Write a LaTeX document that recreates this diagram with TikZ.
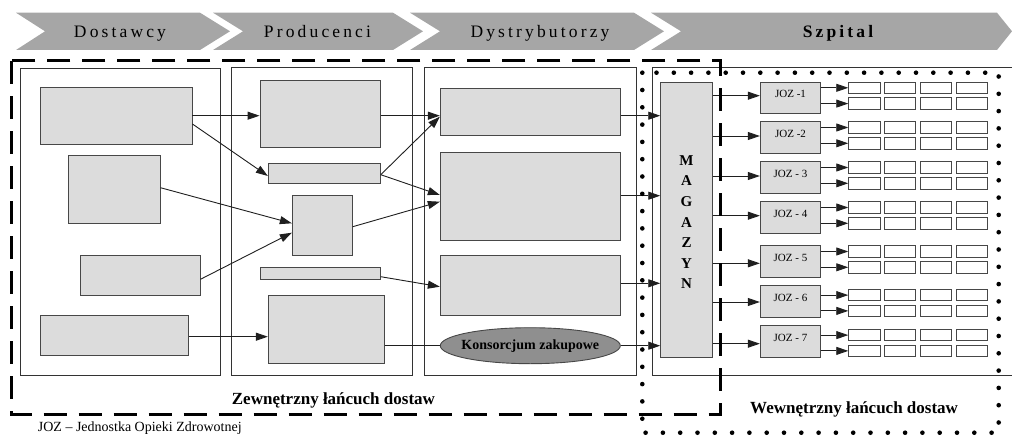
\documentclass[tikz,border=0pt]{standalone}
\usepackage{fontspec}
\setmainfont{Liberation Serif}
\newfontfamily\hdrfont[LetterSpace=18]{Liberation Serif}
\usetikzlibrary{arrows.meta,shapes.geometric,fit}
\definecolor{chevgray}{HTML}{A6A6A6}
\definecolor{boxgray}{HTML}{DCDCDC}
\definecolor{ellgray}{HTML}{8F8F8F}
\begin{document}
\begin{tikzpicture}[x=1pt,y=-1pt,
  box/.style={draw=black!72, fill=boxgray, line width=0.9pt, inner sep=0pt},
  cell/.style={draw=black!72, fill=white, line width=0.9pt, inner sep=0pt},
  col/.style={draw=black!80, line width=0.9pt},
  arr/.style={draw=black!88, line width=0.9pt, -{Triangle[length=12pt,width=8pt]}},
  conn/.style={draw=black!88, line width=0.9pt},
  chev/.style={fill=chevgray},
  hdr/.style={font=\hdrfont\fontsize{17.5}{20}\selectfont, anchor=base, inner sep=0pt},
  dashrect/.style={draw=black, line width=3pt, dash pattern=on 23pt off 12pt},
  dotrect/.style={draw=black, line width=4.6pt, line cap=round, dash pattern=on 0pt off 17.3pt},
  lbl/.style={font=\bfseries\fontsize{17}{20}\selectfont, anchor=base west, inner sep=0pt}
]
\useasboundingbox (0,0) rectangle (1012,436);
% header chevrons
\fill[chev] (16,12.7) -- (200,12.7) -- (230,31.3) -- (200,50) -- (16,50) -- (45,31.3) -- cycle;
\fill[chev] (213,12.7) -- (393,12.7) -- (423,31.3) -- (393,50) -- (213,50) -- (243,31.3) -- cycle;
\fill[chev] (410,12.7) -- (634,12.7) -- (664,31.3) -- (634,50) -- (410,50) -- (440,31.3) -- cycle;
\fill[chev] (651,12.7) -- (997,12.7) -- (1012,31.3) -- (997,50) -- (651,50) -- (681,31.3) -- cycle;
\node[hdr] (h1) at (120,37.3) {Dostawcy};
\node[hdr] (h2) at (317.5,37.3) {Producenci};
\node[hdr] (h3) at (540,37.3) {Dystrybutorzy};
\node[hdr, font=\hdrfont\bfseries\fontsize{17.5}{20}\selectfont] (h4) at (838,37.3) {Szpital};
% columns
\draw[col] (20,68.3) rectangle (220,375.7);
\draw[col] (231.7,67.7) rectangle (412.3,375.7);
\draw[col] (424.3,67.7) rectangle (636.3,375.7);
\draw[col] (1012,67.7) -- (652.7,67.7) -- (652.7,375.3) -- (1012,375.3);
% suppliers
\node[box, fit={(40,87.7) (192,144)}] (a1) {};
\node[box, fit={(68,155.7) (160,223.7)}] (a2) {};
\node[box, fit={(80,255.3) (200,295.3)}] (a3) {};
\node[box, fit={(40,315.7) (188.3,355.7)}] (a4) {};
% producers
\node[box, fit={(260,80) (380.3,147.7)}] (b1) {};
\node[box, fit={(268.3,163.7) (380.3,183.7)}] (b2) {};
\node[box, fit={(292.3,195.7) (352.3,255.3)}] (b3) {};
\node[box, fit={(260,267.7) (380.3,279.7)}] (b4) {};
\node[box, fit={(268.3,295.7) (384.3,363.7)}] (b5) {};
% distributors
\node[box, fit={(440.3,88) (620.3,135.7)}] (c1) {};
\node[box, fit={(440.3,152) (620.3,240)}] (c2) {};
\node[box, fit={(440.3,255.7) (620.3,315.7)}] (c3) {};
\node[ellipse, draw=black!72, fill=ellgray, line width=0.9pt, minimum width=180pt, minimum height=36pt, inner sep=0pt] (kz) at (530.3,345.7) {};
\node[font=\bfseries\fontsize{14}{16}\selectfont, inner sep=0pt] (kzt) at (kz.center) {Konsorcjum zakupowe};
% magazyn
\node[box, fit={(660.7,82) (712.3,357.3)}] (mag) {};
\node[font=\bfseries\fontsize{15}{20.6}\selectfont, align=center, inner sep=0pt, yshift=-2.5pt] (magt) at (mag.center) {M\\A\\G\\A\\Z\\Y\\N};
% arrows supplier -> producer
\draw[arr] (a1.east |- 0,115.7) -- (b1.west |- 0,115.7);
\draw[arr] (a1.east |- 0,124) -- (b2.west |- 0,176);
\draw[arr] (a2.east |- 0,187.7) -- (b3.west |- 0,223.3);
\draw[arr] (a3.east |- 0,279.3) -- (b3.west |- 0,232.7);
\draw[arr] (a4.east |- 0,336.7) -- (b5.west |- 0,336.7);
% producer -> distributor
\draw[arr] (b1.east |- 0,115.7) -- (c1.west |- 0,115.7);
\draw[arr] (b2.east |- 0,174.7) -- (c1.west |- 0,116.7);
\draw[arr] (b2.east |- 0,174.7) -- (c2.west |- 0,195);
\draw[arr] (b3.east |- 0,226.7) -- (c2.west |- 0,201.7);
\draw[arr] (b4.east |- 0,276.7) -- (c3.west |- 0,286.7);
\draw[conn] (b5.east |- kz.west) -- (kz.west);
% distributor -> magazyn
\draw[arr] (c1.east |- 0,115.7) -- (mag.west |- 0,115.7);
\draw[arr] (c2.east |- 0,195.7) -- (mag.west |- 0,195.7);
\draw[arr] (c3.east |- 0,283.3) -- (mag.west |- 0,283.3);
\draw[arr] (kz.east) -- (mag.west |- kz.east);
% JOZ units
\foreach \k/\t/\rt/\ay/\lab in {1/82/82/95.7/{JOZ -1}, 2/121.7/121.7/136/{JOZ -2}, 3/161.7/161.7/176/{JOZ - 3}, 4/201.7/201.7/215.7/{JOZ - 4}, 5/245.7/245.7/263.3/{JOZ - 5}, 6/285.7/289.3/302/{JOZ - 6}, 7/325.7/329.3/343.7/{JOZ - 7}} {
  \node[box, fit={(760.3,\t) (820.7,\t+31.6)}, font=\fontsize{11}{13}\selectfont] (joz\k) {\lab};
  \foreach \c in {0,1,2,3} {
    \node[cell, fit={(848.7+35.83*\c,\rt) (880+35.83*\c,\rt+11.6)}] (r\k-a\c) {};
    \node[cell, fit={(848.7+35.83*\c,\rt+15.8) (880+35.83*\c,\rt+27.4)}] (r\k-b\c) {};
  }
  \draw[arr] (mag.east |- 0,\ay) -- (joz\k.west |- 0,\ay);
  \draw[arr] (joz\k.east |- r\k-a0.west) -- (r\k-a0.west);
  \draw[arr] (joz\k.east |- r\k-b0.west) -- (r\k-b0.west);
}
% dashed and dotted frames
\draw[dashrect] (11.7,61) rectangle (720.5,414);
\draw[dotrect] (642.3,72.7) rectangle (998.7,432.7);
% labels
\node[lbl] (zew) at (231.7,404.5) {Zewnętrzny łańcuch dostaw};
\node[lbl] (wew) at (750,413.3) {Wewnętrzny łańcuch dostaw};
\node[font=\fontsize{14}{16}\selectfont, anchor=base west, inner sep=0pt] (leg) at (37.7,431.7) {JOZ – Jednostka Opieki Zdrowotnej};
\end{tikzpicture}
\end{document}
